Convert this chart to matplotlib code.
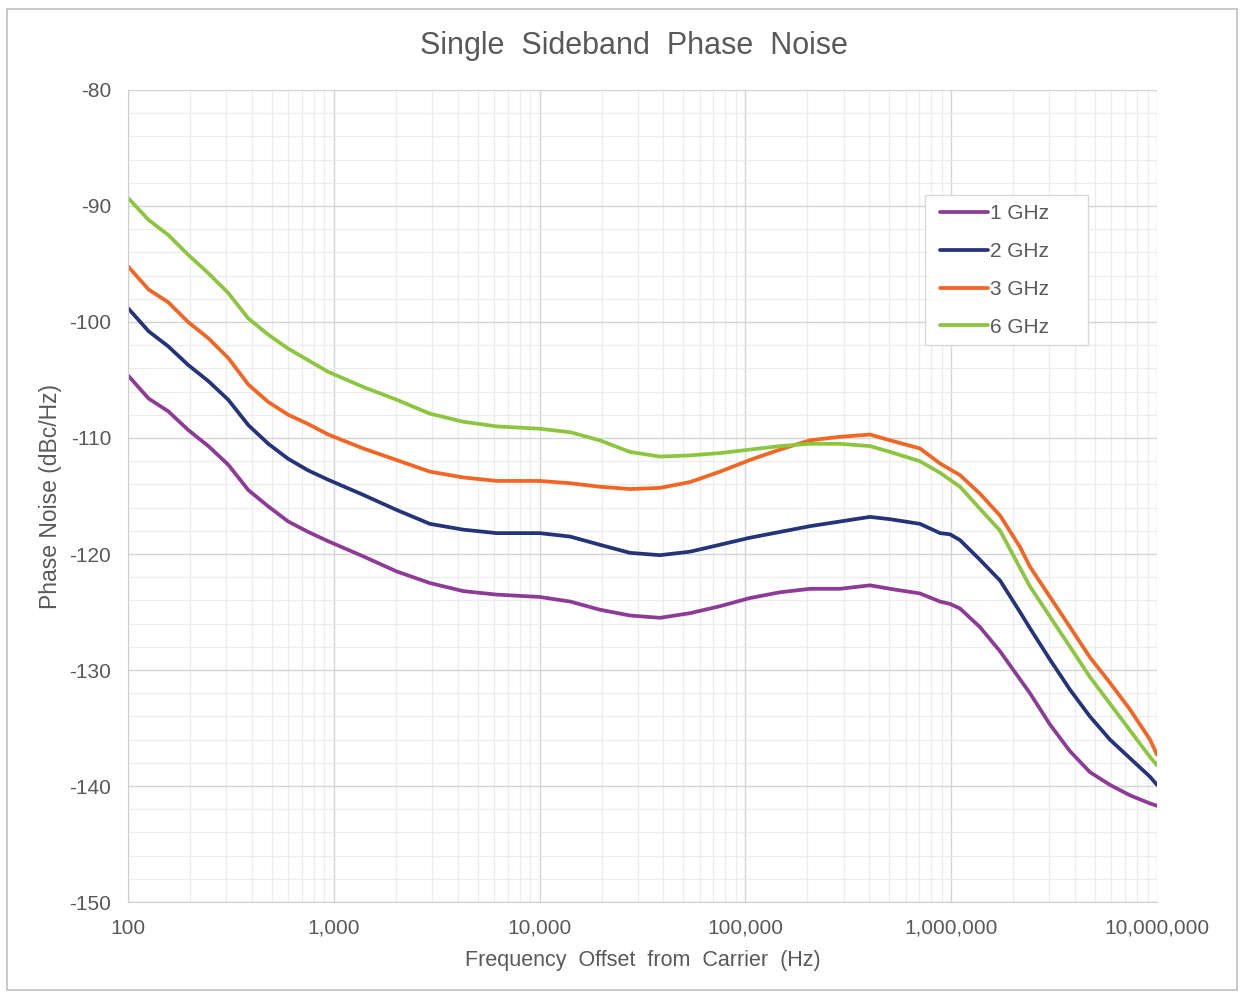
import matplotlib
matplotlib.use("Agg")
import matplotlib.pyplot as plt
from matplotlib.ticker import FixedLocator, FuncFormatter, NullFormatter
from matplotlib.patches import Rectangle

plt.rcParams['font.family'] = ['Liberation Sans', 'DejaVu Sans']

# offset frequencies (Hz)
freq = [100, 126, 157, 196, 246, 307, 385, 481, 601, 752, 940,
        1390, 2020, 2930, 4260, 6190,
        10000, 14100, 19600, 27500, 38500, 53800, 75300, 105000, 147000,
        206000, 288000, 403000, 505000,
        705000, 883000, 987000, 1104000, 1380000, 1730000, 2160000,
        2415000, 3020000, 3780000, 4720000, 5910000, 7390000, 9250000, 10000000]

# phase noise (dBc/Hz) per carrier
pn_1ghz = [-104.6, -106.6, -107.7, -109.3, -110.7, -112.3, -114.5, -115.9, -117.2, -118.1, -118.9,
           -120.2, -121.5, -122.5, -123.2, -123.5,
           -123.7, -124.1, -124.8, -125.3, -125.5, -125.1, -124.5, -123.8, -123.3,
           -123.0, -123.0, -122.7, -123.0,
           -123.4, -124.1, -124.3, -124.7, -126.3, -128.4, -130.8,
           -132.0, -134.7, -137.0, -138.8, -139.9, -140.8, -141.5, -141.7]
pn_2ghz = [-98.8, -100.8, -102.1, -103.7, -105.1, -106.7, -108.9, -110.5, -111.8, -112.8, -113.6,
           -114.9, -116.2, -117.4, -117.9, -118.2,
           -118.2, -118.5, -119.2, -119.9, -120.1, -119.8, -119.2, -118.6, -118.1,
           -117.6, -117.2, -116.8, -117.0,
           -117.4, -118.2, -118.3, -118.8, -120.5, -122.3, -125.0,
           -126.4, -129.1, -131.7, -134.0, -136.0, -137.6, -139.2, -139.9]
pn_3ghz = [-95.2, -97.2, -98.3, -100.0, -101.4, -103.1, -105.4, -106.9, -108.0, -108.8, -109.7,
           -110.9, -111.9, -112.9, -113.4, -113.7,
           -113.7, -113.9, -114.2, -114.4, -114.3, -113.8, -112.9, -111.9, -111.0,
           -110.2, -109.9, -109.7, -110.2,
           -110.9, -112.2, -112.7, -113.2, -114.8, -116.7, -119.4,
           -121.1, -123.7, -126.3, -128.9, -131.1, -133.4, -136.0, -137.3]
pn_6ghz = [-89.3, -91.2, -92.5, -94.2, -95.8, -97.5, -99.7, -101.1, -102.3, -103.3, -104.3,
           -105.6, -106.7, -107.9, -108.6, -109.0,
           -109.2, -109.5, -110.2, -111.2, -111.6, -111.5, -111.3, -111.0, -110.7,
           -110.5, -110.5, -110.7, -111.2,
           -112.0, -113.0, -113.6, -114.2, -116.1, -118.0, -121.2,
           -122.8, -125.4, -128.0, -130.6, -132.9, -135.2, -137.5, -138.2]

labels = ['1 GHz', '2 GHz', '3 GHz', '6 GHz']
colors = ['#8e3b97', '#25347a', '#f26522', '#8cc63f']

TEXT = '#595959'

fig = plt.figure(figsize=(12.41, 9.93), dpi=100)
ax = fig.add_axes([0.1031, 0.0916, 0.8292, 0.8178])

for vals, lab, col in zip([pn_1ghz, pn_2ghz, pn_3ghz, pn_6ghz], labels, colors):
    ax.plot(freq, vals, color=col, lw=2.7, label=lab,
            solid_capstyle='round', solid_joinstyle='round')

ax.set_xscale('log')
ax.set_xlim(100, 1e7)
ax.set_ylim(-150, -80)

# grid
ax.yaxis.set_major_locator(FixedLocator(range(-150, -79, 10)))
ax.yaxis.set_minor_locator(FixedLocator(range(-150, -79, 2)))
ax.grid(True, which='major', color='#d4d4d4', lw=1.0)
ax.grid(True, which='minor', color='#ececec', lw=0.9)
ax.set_axisbelow(True)

ax.xaxis.set_major_formatter(FuncFormatter(lambda v, p: f"{int(round(v)):,}"))
ax.xaxis.set_minor_formatter(NullFormatter())
ax.yaxis.set_major_formatter(FuncFormatter(lambda v, p: f"{int(v)}"))
ax.tick_params(which='both', length=0, colors=TEXT, labelsize=15)
ax.tick_params(axis='x', pad=12)
ax.tick_params(axis='y', pad=12)

for s in ['top', 'right']:
    ax.spines[s].set_visible(False)
for s in ['left', 'bottom']:
    ax.spines[s].set_color('#cfcfcf')

ax.set_title('Single  Sideband  Phase  Noise', color=TEXT, fontsize=22, pad=26, x=0.492)
ax.set_xlabel('Frequency  Offset  from  Carrier  (Hz)', color=TEXT, fontsize=15.5, labelpad=9)
ax.set_ylabel('Phase Noise (dBc/Hz)', color=TEXT, fontsize=16.5, labelpad=5)

# legend box, drawn a little wider than the entries like the original
ax.add_patch(Rectangle((0.7745, 0.686), 0.1585, 0.1847, transform=ax.transAxes,
                       facecolor='white', edgecolor='#d9d9d9', lw=1.0,
                       zorder=4, clip_on=False))
leg = ax.legend(loc='upper left', bbox_to_anchor=(0.789, 0.859), fontsize=15,
                frameon=False, handlelength=2.3, handletextpad=0.1,
                labelspacing=0.9, borderpad=0, borderaxespad=0, labelcolor=TEXT)
leg.set_zorder(5)

# outer chart border
fig.patches.append(Rectangle((0.006, 0.003), 0.991, 0.988, transform=fig.transFigure,
                             fill=False, edgecolor='#bfbfbf', lw=1.2))

fig.savefig('out.png', dpi=100)
